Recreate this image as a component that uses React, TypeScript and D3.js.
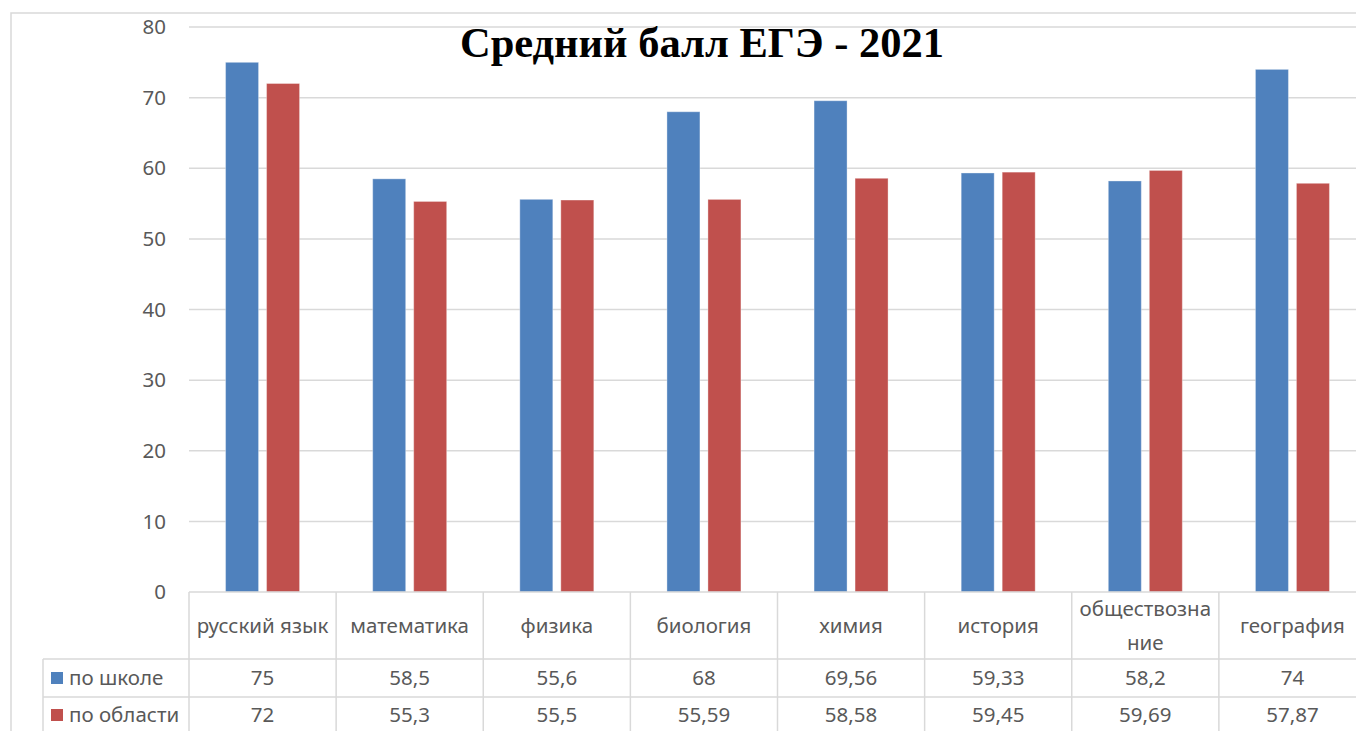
import React from "react";
import * as d3 from "d3";

const categories = ["русский язык", "математика", "физика", "биология", "химия", "история", "обществознание", "география"];
const categoryLines = [["русский язык"], ["математика"], ["физика"], ["биология"], ["химия"], ["история"], ["обществозна", "ние"], ["география"]];
const seriesNames = ["по школе", "по области"];
const school = [75, 58.5, 55.6, 68, 69.56, 59.33, 58.2, 74];
const region = [72, 55.3, 55.5, 55.59, 58.58, 59.45, 59.69, 57.87];
const schoolLabels = ["75", "58,5", "55,6", "68", "69,56", "59,33", "58,2", "74"];
const regionLabels = ["72", "55,3", "55,5", "55,59", "58,58", "59,45", "59,69", "57,87"];
const yTicks = [0, 10, 20, 30, 40, 50, 60, 70, 80];
const title = "Средний балл ЕГЭ - 2021";

const colors = ["#4f81bd", "#c0504d"];
const W = 1356, H = 731;
const plotLeft = 189, plotRight = 1366, plotTop = 27, plotBottom = 592;
const row1 = 659, row2 = 697, tableBottom = 735, legendLeft = 43;
const grid = "#d9d9d9";
const textColor = "#595959";
const font = "'Noto Sans', sans-serif";
const fs = 20.5;

export default function App() {
  const x = d3.scaleBand<string>().domain(categories).range([plotLeft, plotRight]).padding(0);
  const y = d3.scaleLinear().domain([0, 80]).range([plotBottom, plotTop]);
  const inner = d3.scaleBand<number>().domain([0, 1]).range([0, 74]).paddingInner(8 / 41).paddingOuter(0);
  const bw = inner.bandwidth();
  const series = [school, region];
  const labels = [schoolLabels, regionLabels];
  const bandW = x.bandwidth();

  return (
    <svg width={W} height={H} style={{ position: "absolute", left: 0, top: 0 }} xmlns="http://www.w3.org/2000/svg">
      <rect x={0} y={0} width={W} height={H} fill="#fff" />
      {/* outer chart border */}
      <rect x={11} y={13} width={W + 20} height={H + 20} fill="none" stroke={grid} strokeWidth={1.5} />
      {/* gridlines */}
      {yTicks.map((t) => (
        <g key={t}>
          {t > 0 && <line x1={plotLeft} x2={plotRight} y1={y(t)} y2={y(t)} stroke={grid} strokeWidth={1.5} />}
          <text x={166} y={y(t)} dy="0.35em" textAnchor="end" fontFamily={font} fontSize={fs} fill={textColor}>{t}</text>
        </g>
      ))}
      {/* bars */}
      {categories.map((c, i) => {
        const cx = (x(c) as number) + bandW / 2;
        return series.map((s, k) => {
          const bx = cx - 37 + (inner(k) as number);
          return (
            <rect key={c + k} x={bx} y={y(s[i])} width={bw} height={y(0) - y(s[i])} fill={colors[k]} stroke="#ffffff" strokeOpacity={0.35} strokeWidth={1} />
          );
        });
      })}
      {/* table lines */}
      <line x1={plotLeft} x2={plotRight} y1={plotBottom} y2={plotBottom} stroke={grid} strokeWidth={1.5} />
      <line x1={legendLeft} x2={plotRight} y1={row1} y2={row1} stroke={grid} strokeWidth={1.5} />
      <line x1={legendLeft} x2={plotRight} y1={row2} y2={row2} stroke={grid} strokeWidth={1.5} />
      <line x1={legendLeft} x2={legendLeft} y1={row1} y2={tableBottom} stroke={grid} strokeWidth={1.5} />
      {categories.map((c) => (
        <line key={"v" + c} x1={x(c) as number} x2={x(c) as number} y1={plotBottom} y2={tableBottom} stroke={grid} strokeWidth={1.5} />
      ))}
      {/* header texts */}
      {categories.map((c, i) => {
        const cx = (x(c) as number) + bandW / 2;
        const lines = categoryLines[i];
        const mid = (plotBottom + row1) / 2;
        return lines.map((ln, j) => (
          <text key={c + j} x={cx} y={mid + (j - (lines.length - 1) / 2) * 34} dy="0.35em" textAnchor="middle" fontFamily={font} fontSize={fs} fill={textColor}>{ln}</text>
        ));
      })}
      {/* data rows */}
      {labels.map((lab, k) => {
        const ry = k === 0 ? (row1 + row2) / 2 : (row2 + tableBottom) / 2 - 1;
        return (
          <g key={"row" + k}>
            <rect x={51} y={ry - 6} width={12} height={12} fill={colors[k]} />
            <text x={69} y={ry} dy="0.35em" fontFamily={font} fontSize={fs} fill={textColor}>{seriesNames[k]}</text>
            {categories.map((c, i) => (
              <text key={c} x={(x(c) as number) + bandW / 2} y={ry} dy="0.35em" textAnchor="middle" fontFamily={font} fontSize={fs} fill={textColor}>{lab[i]}</text>
            ))}
          </g>
        );
      })}
      {/* title */}
      <text x={702} y={57} textAnchor="middle" fontFamily="'Liberation Serif', 'Times New Roman', serif" fontWeight="bold" fontSize={42.5} fill="#000">{title}</text>
    </svg>
  );
}
